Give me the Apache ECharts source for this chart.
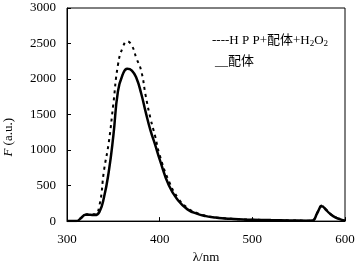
<!DOCTYPE html>
<html>
<head>
<meta charset="utf-8">
<script src="https://cdn.jsdelivr.net/npm/echarts@6/dist/echarts.min.js"></script>
<style>
    html, body { margin: 0; padding: 0; background: #fff; }
    #chart { width: 358px; height: 269px; }
</style>
</head>
<body>
<div id="chart"></div>
<script>
// wavelength (nm)
var lambdaNm = [300, 310, 315, 320, 325, 330, 335, 340, 345, 350, 355, 360, 365, 370, 375, 380, 385, 390, 395, 400,
    410, 420, 430, 440, 450, 460, 470, 480, 490, 500, 520, 540, 560, 565, 570, 575, 580, 585, 590, 595, 600]
// HPP+配体+H2O2 (dashed)
var mixValues = [0, 0, 45, 95, 95, 95, 220, 720, 1100, 1650, 2200, 2440, 2530, 2470, 2290, 2120, 1760, 1450, 1200, 930,
    560, 320, 185, 115, 75, 52, 40, 30, 24, 20, 14, 10, 6, 10, 120, 220, 160, 95, 55, 25, 5]
// 配体 (solid)
var ligandValues = [0, 0, 40, 90, 88, 85, 130, 340, 690, 1200, 1830, 2060, 2145, 2120, 2010, 1800, 1530, 1280, 1080, 870,
    500, 290, 165, 105, 70, 50, 38, 30, 24, 20, 14, 10, 6, 8, 110, 210, 150, 90, 50, 25, 5]
var xTicks = [300, 600, 100]
var yTicks = [0, 3000, 500]

var serif = 'Liberation Serif'
var chart = echarts.init(document.getElementById('chart'))

function pairs(vals) {
    return lambdaNm.map(function (x, i) { return [x, vals[i]] })
}

var options = {
    animation: false,
    grid: {
        left: 67,
        right: 13,
        top: 8,
        bottom: 42,
        show: true,
        borderColor: '#000',
        borderWidth: 1,
    },
    xAxis: {
        type: 'value',
        min: xTicks[0],
        max: xTicks[1],
        interval: xTicks[2],
        name: 'λ/nm',
        nameLocation: 'middle',
        nameGap: 28,
        nameTextStyle: { color: '#000', fontFamily: serif, fontSize: 13 },
        axisLine: { show: true, lineStyle: { color: '#000', width: 1 } },
        axisTick: { show: true, inside: true, length: 4, lineStyle: { color: '#000' } },
        axisLabel: { color: '#000', fontFamily: serif, fontSize: 13, margin: 12 },
        splitLine: { show: false },
    },
    yAxis: {
        type: 'value',
        min: yTicks[0],
        max: yTicks[1],
        interval: yTicks[2],
        axisLine: { show: true, lineStyle: { color: '#000', width: 1 } },
        axisTick: { show: true, inside: true, length: 4, lineStyle: { color: '#000' } },
        axisLabel: {
            color: '#000',
            fontFamily: serif,
            fontSize: 13,
            margin: 11,
            formatter: function (v) { return String(v) },
        },
        splitLine: { show: false },
    },
    graphic: [
        {
            type: 'text',
            left: 2,
            top: 118,
            rotation: Math.PI / 2,
            originX: 0,
            originY: 0,
            style: {
                text: '{i|F} (a.u.)',
                fill: '#000',
                font: '13px ' + serif,
                rich: {
                    i: { fontStyle: 'italic', fontFamily: serif, fontSize: 13 },
                },
                verticalAlign: 'middle',
                align: 'center',
            },
        },
        {
            type: 'text',
            left: 212,
            top: 34,
            style: {
                text: '----H P P+配体+H{s|2}O{s|2}',
                fill: '#000',
                font: '13px ' + serif + ', "Noto Sans CJK SC"',
                rich: {
                    s: { fontSize: 9, fontFamily: serif, verticalAlign: 'bottom', padding: [6, 0, 0, 0] },
                },
            },
        },
        {
            type: 'text',
            left: 215,
            top: 55,
            style: {
                text: '__配体',
                fill: '#000',
                font: '13px ' + serif + ', "Noto Sans CJK SC"',
            },
        },
    ],
    series: [
        {
            name: 'HPP+配体+H2O2',
            type: 'line',
            data: pairs(mixValues),
            smooth: true,
            showSymbol: false,
            lineStyle: { color: '#000', width: 2, type: [3, 4] },
        },
        {
            name: '配体',
            type: 'line',
            data: pairs(ligandValues),
            smooth: true,
            showSymbol: false,
            lineStyle: { color: '#000', width: 2.5 },
        },
    ],
}
chart.setOption(options)
</script>
</body>
</html>
